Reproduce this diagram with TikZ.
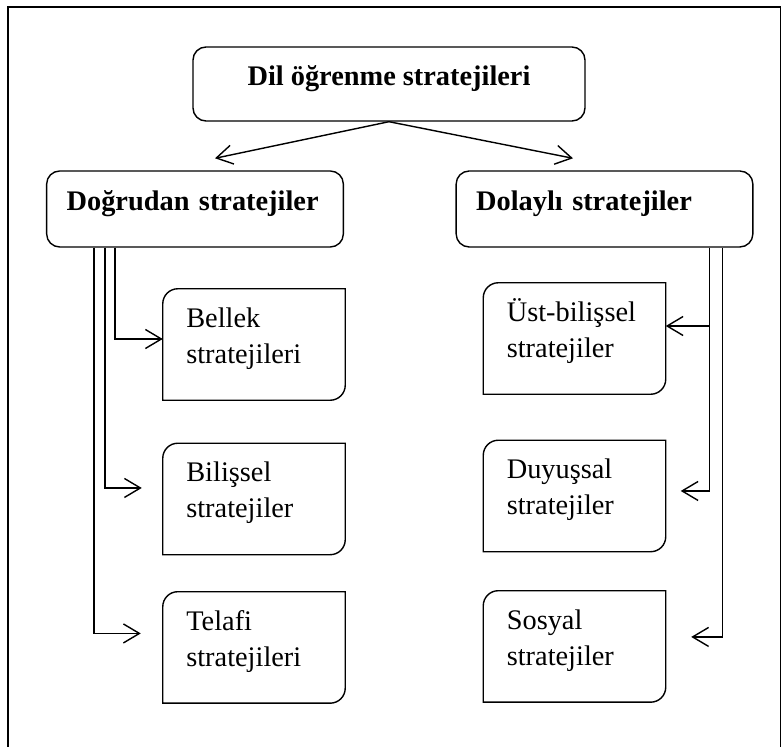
\documentclass[tikz,border=0pt]{standalone}
\usepackage{fontspec}
\setmainfont{Liberation Serif}
\usetikzlibrary{arrows.meta,positioning}

\begin{document}
\begin{tikzpicture}[
    box/.style={draw, rounded corners=0.39cm, line width=1.2pt, minimum height=2.28cm, text depth=14.5pt, font=\bfseries\fontsize{24.2}{30.7}\selectfont},
    subbox/.style={minimum width=5.46cm, minimum height=3.33cm, inner xsep=0.7cm, text width=4.06cm, text height=6.3pt, align=left, font=\fontsize{24.2}{30.7}\selectfont},
    conn/.style={line width=1.2pt, -{Straight Barb[length=4.8mm,width=5.7mm]}}
]
    \useasboundingbox (0,0) rectangle (23.46,-22.41);
    \draw[line width=0.9pt] (0.24,-22.41) -- (0.24,-0.21) -- (23.415,-0.21) -- (23.415,-22.41);

    \node[box, minimum width=11.76cm, minimum height=2.22cm] (top) at (11.67,-2.52) {Dil öğrenme stratejileri};
    \node[box, minimum width=8.9cm, text width=7.7cm, inner xsep=0.6cm, align=left] (direct) at (5.85,-6.27) {Doğrudan stratejiler};
    \node[box, minimum width=8.9cm, text width=7.7cm, inner xsep=0.6cm, align=left] (indirect) at (18.135,-6.27) {Dolaylı stratejiler};

    % alt kutular
    \node[subbox] (bellek) at (7.62,-10.335) {Bellek\\stratejileri};
    \node[subbox, below=1.29cm of bellek] (bilissel) {Bilişsel\\stratejiler};
    \node[subbox, below=1.11cm of bilissel] (telafi) {Telafi\\stratejileri};
    \node[subbox] (ust) at (17.235,-10.155) {Üst-bilişsel\\stratejiler};
    \node[subbox, below=1.38cm of ust] (duyussal) {Duyuşsal\\stratejiler};
    \node[subbox, below=1.17cm of duyussal] (sosyal) {Sosyal\\stratejiler};

    \foreach \n in {bellek,bilissel,telafi,ust,duyussal,sosyal}
        \draw[line width=1.2pt] ([xshift=0.45cm]\n.north west) -- (\n.north east) -- ([yshift=0.45cm]\n.south east)
            arc[start angle=0, end angle=-90, radius=0.45cm] -- (\n.south west) -- ([yshift=-0.45cm]\n.north west)
            arc[start angle=180, end angle=90, radius=0.45cm] -- cycle;

    \draw[conn] (top.south) -- ([xshift=0.6cm,yshift=0.36cm]direct.north);
    \draw[conn] (top.south) -- ([xshift=-0.945cm,yshift=0.36cm]indirect.north);

    \draw[conn] ([xshift=2.07cm]direct.south west) |- ([yshift=0.165cm]bellek.west);
    \draw[conn] ([xshift=1.77cm]direct.south west) |- ([xshift=-0.63cm,yshift=0.33cm]bilissel.west);
    \draw[conn] ([xshift=1.44cm]direct.south west) |- ([xshift=-0.66cm,yshift=0.42cm]telafi.west);

    \draw[conn] ([xshift=-1.32cm]indirect.south east) |- ([yshift=0.375cm]ust.east);
    \draw[conn] ([xshift=-1.32cm]indirect.south east) |- ([xshift=0.45cm,yshift=0.15cm]duyussal.east);
    \draw[conn] ([xshift=-0.93cm]indirect.south east) |- ([xshift=0.765cm,yshift=0.285cm]sosyal.east);
\end{tikzpicture}
\end{document}
